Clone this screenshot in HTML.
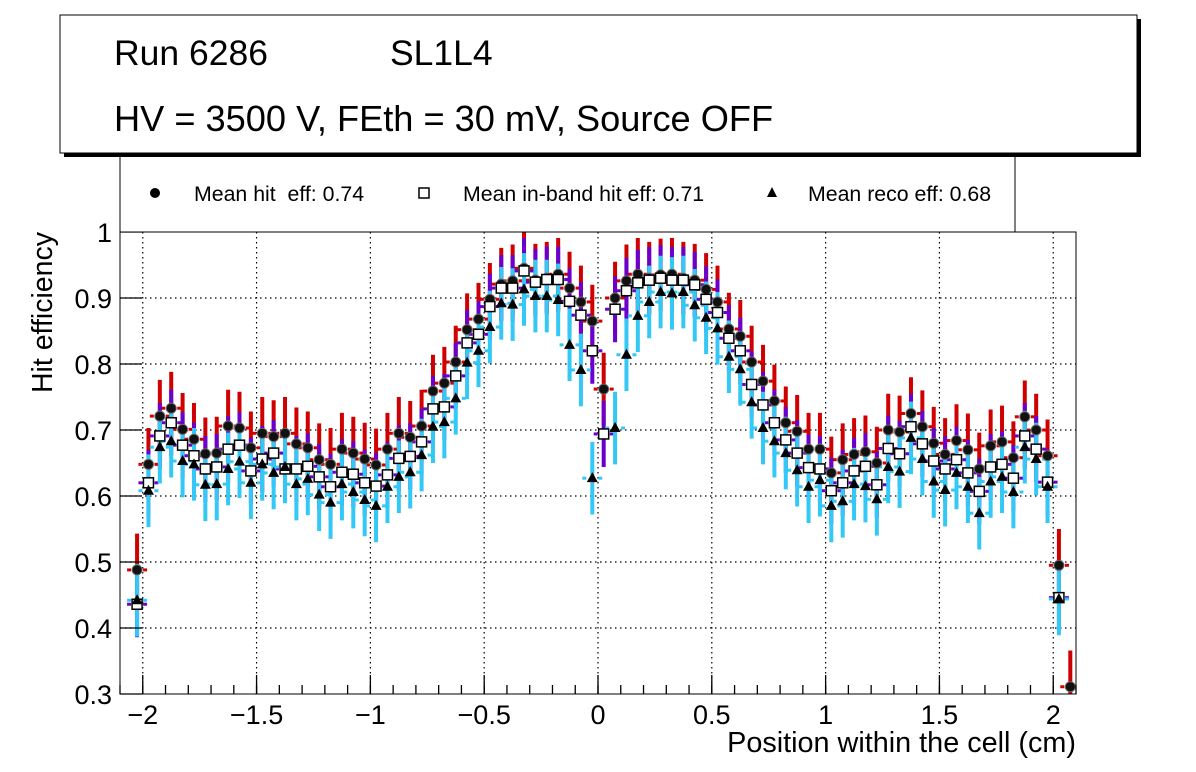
<!DOCTYPE html>
<html><head><meta charset="utf-8"><style>
html,body{margin:0;padding:0;background:#fff;}
svg{display:block;font-family:"Liberation Sans",sans-serif;}
</style></head><body>
<svg id="chart" width="1196" height="772" viewBox="0 0 1196 772" xmlns="http://www.w3.org/2000/svg">
<rect x="0" y="0" width="1196" height="772" fill="#fff"/>
<g id="grid"></g>
<g id="bars" clip-path="url(#clip)"></g>
<g id="marks"></g>
<defs><clipPath id="clip"><rect x="120" y="232" width="956" height="462"/></clipPath></defs>
<rect x="120" y="232" width="956" height="462" fill="none" stroke="#000" stroke-width="1"/>
<g id="axes"></g>
<!-- legend -->
<g>
<rect x="120" y="150" width="895" height="82" fill="#fff" stroke="#000" stroke-width="1"/>
<g><circle cx="155" cy="193" r="5" fill="#000"/><text x="194" y="201" font-size="21.3" xml:space="preserve" style="white-space:pre">Mean hit  eff: 0.74</text></g>
<g><rect x="419" y="188" width="10" height="10" fill="#fff" stroke="#000" stroke-width="1.5"/><text x="463" y="201" font-size="21.3">Mean in-band hit eff: 0.71</text></g>
<g><polygon points="772,187 777,197 767,197" fill="#000"/><text x="808" y="201" font-size="21.3">Mean reco eff: 0.68</text></g>
</g>
<!-- title box -->
<g>
<rect x="64" y="19" width="1077" height="138" fill="#000"/>
<rect x="60" y="15" width="1077" height="138" fill="#fff" stroke="#000" stroke-width="1"/>
<text x="114" y="65" font-size="35.5">Run 6286</text>
<text x="390" y="65" font-size="35.5">SL1L4</text>
<text x="114" y="131" font-size="36.2">HV = 3500 V, FEth = 30 mV, Source OFF</text>
</g>
<text x="1076" y="752" font-size="28.8" text-anchor="end">Position within the cell (cm)</text>
<text transform="translate(52,232) rotate(-90)" font-size="28.5" text-anchor="end">Hit efficiency</text>
</svg>
<script>
const xCenters0 = -2.025;
const binWidth = 0.05;
const hitEff = [0.488,0.648,0.721,0.733,0.701,0.686,0.664,0.665,0.706,0.703,0.673,0.695,0.690,0.695,0.679,0.673,0.655,0.648,0.671,0.665,
0.656,0.647,0.671,0.695,0.689,0.706,0.759,0.771,0.803,0.852,0.868,0.898,0.921,0.926,0.945,0.927,0.930,0.936,0.915,0.894,0.865,
0.762,
0.900,0.926,0.936,0.930,0.935,0.936,0.930,0.927,0.913,0.894,0.853,0.842,0.803,0.774,0.744,0.711,0.698,0.671,0.671,0.635,
0.655,0.663,0.667,0.650,0.700,0.697,0.725,0.705,0.680,0.663,0.684,0.670,0.641,0.676,0.682,0.658,0.720,0.700,0.661,0.495,0.311];
const inBandEff = [0.436,0.620,0.691,0.711,0.677,0.661,0.641,0.644,0.671,0.677,0.638,0.656,0.665,0.641,0.641,0.645,0.629,0.614,0.636,0.633,
0.620,0.615,0.632,0.657,0.660,0.682,0.732,0.735,0.782,0.832,0.845,0.887,0.915,0.915,0.941,0.924,0.928,0.928,0.895,0.874,0.820,
0.694,
0.883,0.911,0.923,0.927,0.930,0.927,0.927,0.920,0.898,0.878,0.839,0.820,0.769,0.738,0.711,0.685,0.665,0.643,0.641,0.608,
0.620,0.638,0.645,0.617,0.672,0.664,0.705,0.679,0.653,0.641,0.655,0.635,0.607,0.644,0.648,0.627,0.691,0.671,0.621,0.446,null];
const recoEff = [0.442,0.608,0.674,0.683,0.653,0.648,0.617,0.618,0.641,0.652,0.620,0.648,0.635,0.644,0.618,0.626,0.602,0.590,0.618,0.606,
0.594,0.585,0.614,0.629,0.636,0.662,0.705,0.712,0.748,0.802,0.820,0.856,0.892,0.890,0.913,0.903,0.903,0.897,0.829,0.791,0.627,
null,
0.703,0.814,0.873,0.894,0.909,0.907,0.909,0.889,0.870,0.854,0.811,0.792,0.742,0.703,0.683,0.665,0.639,0.614,0.624,0.585,
0.592,0.618,0.615,0.595,0.644,0.637,0.688,0.656,0.622,0.609,0.635,0.614,0.574,0.622,0.629,0.606,0.674,0.656,0.614,0.444,null];
const hitErr = 0.055;
const inBandErr = 0.05;
const recoErr = 0.055;
const xTicks = [-2,-1.5,-1,-0.5,0,0.5,1,1.5,2];
const xTickLabels = ["\u22122","\u22121.5","\u22121","\u22120.5","0","0.5","1","1.5","2"];
const yTicks = [0.3,0.4,0.5,0.6,0.7,0.8,0.9,1];
const yTickLabels = ["0.3","0.4","0.5","0.6","0.7","0.8","0.9","1"];

const X0=120,X1=1076,Y0=694,Y1=232,XMIN=-2.1,XMAX=2.1,YMIN=0.3,YMAX=1.0;
function sx(v){return X0+(v-XMIN)/(XMAX-XMIN)*(X1-X0);}
function sy(v){return Y0-(v-YMIN)/(YMAX-YMIN)*(Y0-Y1);}
const NS="http://www.w3.org/2000/svg";
function mk(tag,attrs,parent){const e=document.createElementNS(NS,tag);for(const k in attrs)e.setAttribute(k,attrs[k]);parent.appendChild(e);return e;}
const grid=document.getElementById('grid'),bars=document.getElementById('bars'),marks=document.getElementById('marks'),axes=document.getElementById('axes');

xTicks.forEach((t,i)=>{
  const l=mk('line',{x1:sx(t),x2:sx(t),y1:Y1,y2:Y0,stroke:'#000','stroke-width':1.2,'stroke-dasharray':'1.5,3.5'},grid);
  
  
  const tk=mk('line',{x1:sx(t),x2:sx(t),y1:Y0,y2:Y0-19,stroke:'#000','stroke-width':1.3},axes);
  
  
  const tx=mk('text',{x:sx(t),y:724,'font-size':27,'text-anchor':'middle'},axes);
  tx.textContent=xTickLabels[i];
  
  
});
for(let v=-2.1;v<=2.1001;v+=0.1){
  const m=mk('line',{x1:sx(v),x2:sx(v),y1:Y0,y2:Y0-9,stroke:'#000','stroke-width':1.3},axes);
  
  
}
yTicks.forEach((t,i)=>{
  if(t>YMIN+1e-6&&t<YMAX-1e-6){
    const l=mk('line',{x1:X0,x2:X1,y1:sy(t),y2:sy(t),stroke:'#000','stroke-width':1.2,'stroke-dasharray':'1.5,3.5'},grid);
    
    
  }
  const tk=mk('line',{x1:X0,x2:X0+22,y1:sy(t),y2:sy(t),stroke:'#000','stroke-width':1.3},axes);
  
  
  const tx=mk('text',{x:112,y:sy(t)+10,'font-size':27,'text-anchor':'end'},axes);
  tx.textContent=yTickLabels[i];
  
  
});

function drawBars(arr,err,color,name){
  arr.forEach((v,i)=>{
    if(v===null)return;
    const x=sx(xCenters0+binWidth*i);
    const b=mk('line',{x1:x,x2:x,y1:sy(v-err),y2:sy(v+err),stroke:color,'stroke-width':4},bars);
    
    
    const h1=mk('line',{x1:x-10,x2:x-6,y1:sy(v),y2:sy(v),stroke:color,'stroke-width':3},bars);
    
    
    const h2=mk('line',{x1:x+6,x2:x+10,y1:sy(v),y2:sy(v),stroke:color,'stroke-width':3},bars);
    
    
  });
}
drawBars(hitEff,hitErr,'#d00000','hit');
drawBars(inBandEff,inBandErr,'#6a00cc','inband');
drawBars(recoEff,recoErr,'#33c8f5','reco');

hitEff.forEach((v,i)=>{
  if(v===null)return;
  const c=mk('circle',{cx:sx(xCenters0+binWidth*i),cy:sy(v),r:5,fill:'#111',stroke:'#666','stroke-width':1},marks);
  
  
});
inBandEff.forEach((v,i)=>{
  if(v===null)return;
  const x=sx(xCenters0+binWidth*i),y=sy(v);
  const r=mk('rect',{x:x-5,y:y-5,width:10,height:10,fill:'#fff',stroke:'#000','stroke-width':1.5},marks);
  
  
});
recoEff.forEach((v,i)=>{
  if(v===null)return;
  const x=sx(xCenters0+binWidth*i),y=sy(v);
  const p=mk('polygon',{points:`${x},${y-6} ${x+5.5},${y+4} ${x-5.5},${y+4}`,fill:'#000'},marks);
  
  
});
</script>
</body></html>
